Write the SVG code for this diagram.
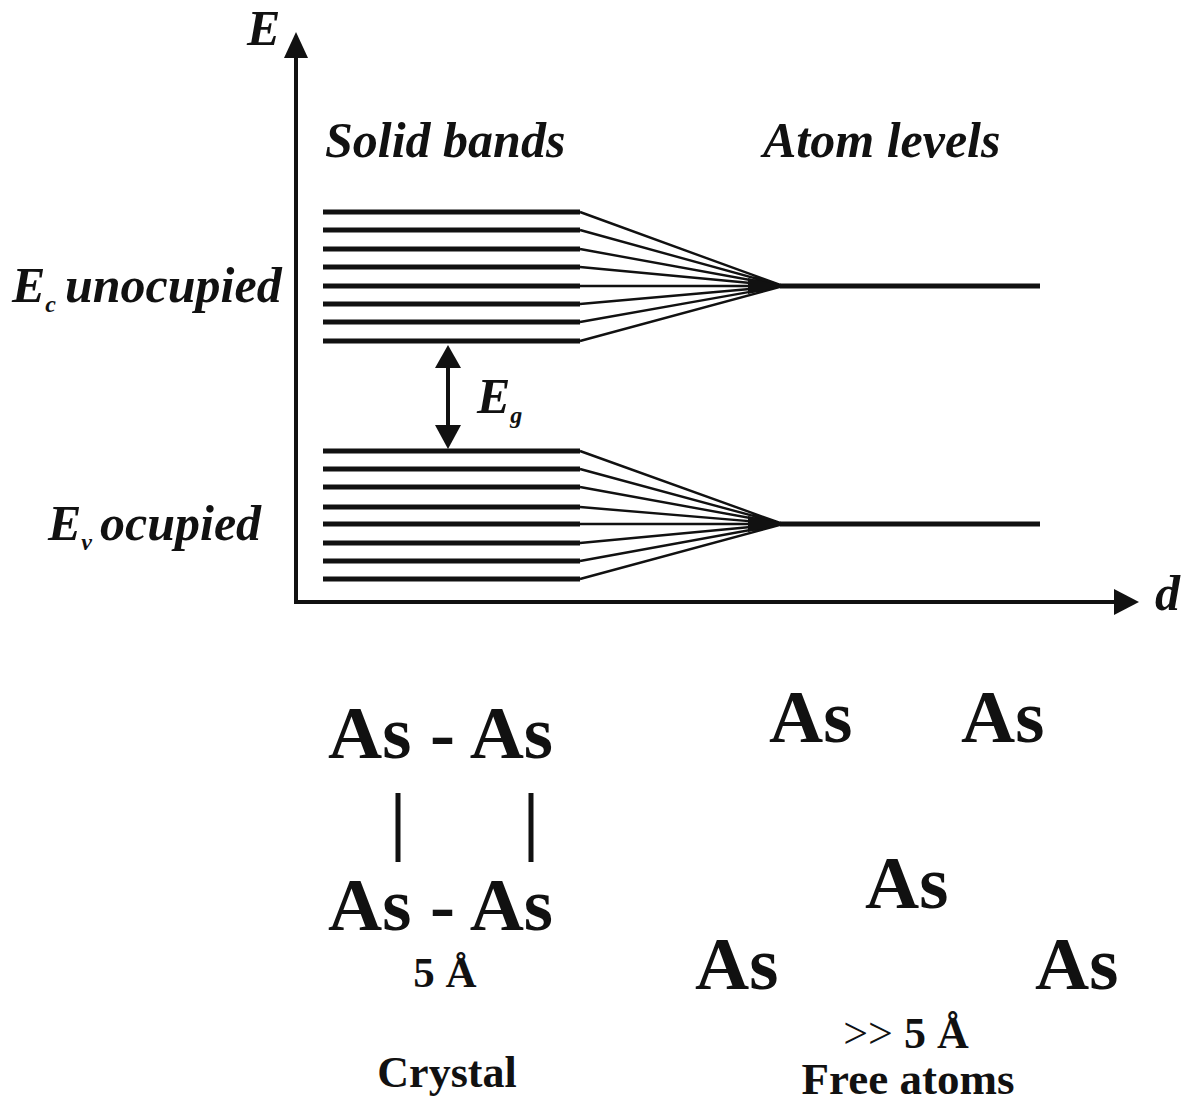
<svg xmlns="http://www.w3.org/2000/svg" width="1191" height="1104" viewBox="0 0 1191 1104">
<defs>
<style>
.bi{font-family:"Liberation Serif","Times New Roman",serif;font-weight:bold;font-style:italic;fill:#111}
.b{font-family:"Liberation Serif","Times New Roman",serif;font-weight:bold;fill:#111}
.band{stroke:#111;stroke-width:5;fill:none}
.fan{stroke:#111;stroke-width:2.4;fill:none}
.ax{stroke:#111;stroke-width:4;fill:none}
</style>
</defs>
<rect width="1191" height="1104" fill="#fff"/>
<g id="connectors">
<g id="axes">
<line class="ax" x1="296" y1="604" x2="296" y2="55"/>
<polygon points="296,32 284,58 308,58" fill="#111"/>
<line class="ax" x1="294" y1="602" x2="1118" y2="602"/>
<polygon points="1139,602 1114,589 1114,615" fill="#111"/>
</g>
<g id="gap-arrow">
<line class="ax" x1="448" y1="362" x2="448" y2="430"/>
<polygon points="448,345 435,368 461,368" fill="#111"/>
<polygon points="448,449 435,425 461,425" fill="#111"/>
</g>
</g>
<g id="conduction-band">
<path class="band" d="M323,212H580M323,230H580M323,249H580M323,267H580M323,286H580M323,304H580M323,322H580M323,341H580"/>
<path class="fan" d="M580,212L783,286M580,230L783,286M580,249L783,286M580,267L783,286M580,286L783,286M580,304L783,286M580,322L783,286M580,341L783,286"/>
<polygon points="748,278 785,286 748,294" fill="#111"/>
<line class="band" x1="780" y1="286" x2="1040" y2="286"/>
</g>
<g id="valence-band">
<path class="band" d="M323,451H580M323,469H580M323,487H580M323,507H580M323,524H580M323,543H580M323,561H580M323,579H580"/>
<path class="fan" d="M580,451L783,524M580,469L783,524M580,487L783,524M580,507L783,524M580,524L783,524M580,543L783,524M580,561L783,524M580,579L783,524"/>
<polygon points="748,516 785,524 748,532" fill="#111"/>
<line class="band" x1="780" y1="524" x2="1040" y2="524"/>
</g>
<g id="labels">
<text class="bi" x="247" y="45" font-size="50">E</text>
<text class="bi" x="1155" y="610" font-size="50">d</text>
<text class="bi" x="325" y="157" font-size="50">Solid bands</text>
<text class="bi" x="763" y="157" font-size="50">Atom levels</text>
<text class="bi" x="12" y="302" font-size="50">E<tspan font-size="24" dy="10">c</tspan><tspan dy="-10" x="65">unocupied</tspan></text>
<text class="bi" x="48" y="540" font-size="50">E<tspan font-size="24" dy="10">v</tspan><tspan dy="-10" x="100">ocupied</tspan></text>
<text class="bi" x="477" y="413" font-size="50">E<tspan font-size="24" dy="10">g</tspan></text>
</g>
<g id="crystal">
<text class="b" x="328" y="758" font-size="75">As - As</text>
<line x1="398" y1="793" x2="398" y2="862" stroke="#111" stroke-width="5"/>
<line x1="531" y1="793" x2="531" y2="862" stroke="#111" stroke-width="5"/>
<text class="b" x="328" y="930" font-size="75">As - As</text>
<text class="b" x="445" y="987" font-size="43" text-anchor="middle">5 Å</text>
<text class="b" x="447" y="1087" font-size="44" text-anchor="middle">Crystal</text>
</g>
<g id="free-atoms">
<text class="b" x="769" y="742" font-size="75">As</text>
<text class="b" x="961" y="742" font-size="75">As</text>
<text class="b" x="865" y="908" font-size="75">As</text>
<text class="b" x="695" y="989" font-size="75">As</text>
<text class="b" x="1035" y="989" font-size="75">As</text>
<text class="b" x="906" y="1048" font-size="44" text-anchor="middle"><tspan font-weight="normal">&gt;&gt;</tspan> 5 Å</text>
<text class="b" x="908" y="1094" font-size="45" text-anchor="middle">Free atoms</text>
</g>
</svg>
